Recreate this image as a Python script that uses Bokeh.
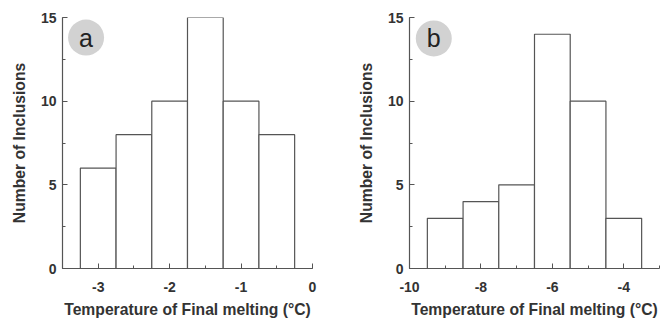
from bokeh.plotting import figure
from bokeh.layouts import row
from bokeh.models import Range1d, FixedTicker
from bokeh.embed import file_html
from bokeh.resources import INLINE
from bokeh.core.properties import value

# Panel a data
a_centers = [-3.0, -2.5, -2.0, -1.5, -1.0, -0.5]
a_counts = [6, 8, 10, 15, 10, 8]
a_width = 0.5
a_xticks = [-3, -2, -1, 0]
a_xminor = [-3.5, -2.5, -1.5, -0.5]

# Panel b data
b_centers = [-9, -8, -7, -6, -5, -4]
b_counts = [3, 4, 5, 14, 10, 3]
b_width = 1.0
b_xticks = [-10, -8, -6, -4]
b_xminor = [-9, -7, -5, -3]

y_ticks = [0, 5, 10, 15]
y_minor = [2.5, 7.5, 12.5]

FONT = "Liberation Sans"
TXT = "#333333"
AX = "#555555"


def make_panel(centers, counts, width, xr, xticks, xminor, tag, tag_xy, fig_w, bl, br):
    p = figure(width=fig_w, height=320, output_backend="svg", toolbar_location=None,
               x_range=Range1d(*xr), y_range=Range1d(0, 15),
               min_border_left=bl, min_border_right=br, min_border_top=17, min_border_bottom=51)
    p.outline_line_color = None
    p.xgrid.visible = False
    p.ygrid.visible = False
    p.vbar(x=centers, top=counts, bottom=0, width=width, fill_color="white",
           line_color=AX, line_width=1.2)
    p.scatter(x=[tag_xy[0]], y=[tag_xy[1]], size=36, marker="circle",
              fill_color="#d2d2d2", line_color=None)
    p.text(x=[tag_xy[0]], y=[tag_xy[1]], text=[tag], text_align="center",
           text_baseline="middle", text_font=value(FONT), text_font_size="25px",
           text_color="#222222")
    p.xaxis.ticker = FixedTicker(ticks=xticks, minor_ticks=xminor + xticks)
    p.yaxis.ticker = FixedTicker(ticks=y_ticks, minor_ticks=y_minor + y_ticks)
    p.xaxis.major_label_overrides = {t: str(t) for t in xticks}
    for ax in (p.xaxis, p.yaxis):
        ax.axis_line_color = AX
        ax.axis_line_width = 1.2
        ax.major_tick_line_color = AX
        ax.minor_tick_line_color = AX
        ax.major_tick_in = 5
        ax.major_tick_out = 0
        ax.minor_tick_in = 3
        ax.minor_tick_out = 0
        ax.major_label_text_font = FONT
        ax.major_label_text_font_style = "bold"
        ax.major_label_text_font_size = "14px"
        ax.major_label_text_color = TXT
        ax.axis_label_text_font = FONT
        ax.axis_label_text_font_style = "bold"
        ax.axis_label_text_font_size = "15.7px"
        ax.axis_label_text_color = TXT
    p.xaxis.axis_label = "Temperature of Final melting (°C)"
    p.yaxis.axis_label = "Number of Inclusions"
    p.xaxis.major_label_standoff = 13
    p.xaxis.axis_label_standoff = 6
    p.yaxis.major_label_standoff = 6
    p.yaxis.axis_label_standoff = 10
    return p


pa = make_panel(a_centers, a_counts, a_width, (-3.5, 0), a_xticks, a_xminor,
                "a", (-3.17, 13.8), 338, 62, 26)
pb = make_panel(b_centers, b_counts, b_width, (-10, -3), b_xticks, b_xminor,
                "b", (-9.32, 13.75), 329, 71, 8)

layout = row(pa, pb)
open("out.html", "w").write(file_html(layout, INLINE))
